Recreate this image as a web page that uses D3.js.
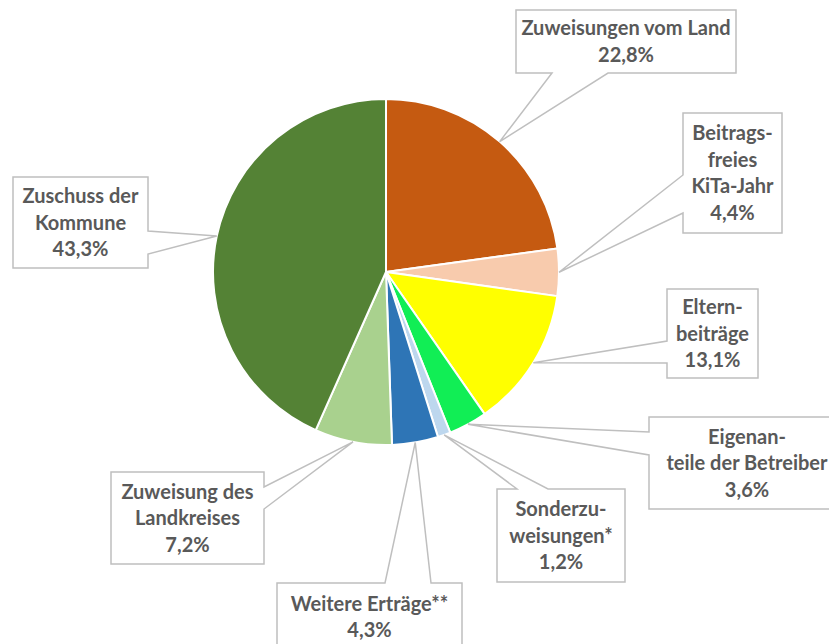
<!DOCTYPE html>
<html>
<head>
<meta charset="utf-8">
<script src="https://cdn.jsdelivr.net/npm/d3@7"></script>
<style>
  html, body { margin: 0; padding: 0; background: #fff; overflow: hidden; }
  svg { display: block; }
  .label { font-family: Lato, "Open Sans", sans-serif; font-weight: 700; font-size: 20px; fill: #595959; }
</style>
</head>
<body>
<svg id="chart"></svg>
<script>
// data, clockwise from 12 o'clock
const categories = ["Zuweisungen vom Land", "Beitragsfreies KiTa-Jahr", "Elternbeiträge",
  "Eigenanteile der Betreiber", "Sonderzuweisungen*", "Weitere Erträge**",
  "Zuweisung des Landkreises", "Zuschuss der Kommune"];
const shares = [22.8, 4.4, 13.1, 3.6, 1.2, 4.3, 7.2, 43.3];
const labelLines = [
  ["Zuweisungen vom Land"],
  ["Beitrags-", "freies", "KiTa-Jahr"],
  ["Eltern-", "beiträge"],
  ["Eigenan-", "teile der Betreiber"],
  ["Sonderzu-", "weisungen*"],
  ["Weitere Erträge**"],
  ["Zuweisung des", "Landkreises"],
  ["Zuschuss der", "Kommune"]
];

const colors = ["#C55A11", "#F8CBAD", "#FFFF00", "#11EE55", "#BDD7EE", "#2E75B6", "#A9D18E", "#548235"];

// callout boxes: x, y, w, h, side of the tail, tail base from a to b
const boxes = [
  {x: 516, y: 10,  w: 220, h: 63,  side: "bottom", a: 552, b: 608},
  {x: 683, y: 113, w: 99,  h: 120, side: "left",   a: 175, b: 213},
  {x: 667, y: 289, w: 91,  h: 89,  side: "left",   a: 341, b: 363},
  {x: 649, y: 417, w: 196, h: 92,  side: "left",   a: 432, b: 455},
  {x: 497, y: 489, w: 128, h: 93,  side: "top",    a: 517, b: 548},
  {x: 277, y: 583, w: 185, h: 68,  side: "top",    a: 385, b: 431},
  {x: 111, y: 472, w: 153, h: 92,  side: "right",  a: 487, b: 509},
  {x: 13,  y: 177, w: 135, h: 91,  side: "right",  a: 231, b: 254}
];

const width = 829;
const height = 644;
const cx = 386, cy = 272;
const radius = 173;
const lineH = 26.5;

const de = d3.formatLocale({decimal: ",", thousands: ".", grouping: [3], currency: ["", " €"]});
const pct = de.format(".1f");

const svg = d3.select("#chart")
    .attr("width", width)
    .attr("height", height);

const g = svg.append("g")
    .attr("transform", `translate(${cx},${cy})`);

const pie = d3.pie()
    .sort(null)
    .value(d => d);

const arc = d3.arc()
    .innerRadius(0)
    .outerRadius(radius);

const edgeArc = d3.arc()
    .innerRadius(radius)
    .outerRadius(radius);

const arcs = pie(shares);

g.selectAll("path.slice")
    .data(arcs)
  .enter().append("path")
    .attr("class", "slice")
    .attr("d", arc)
    .attr("fill", (d, i) => colors[i])
    .attr("stroke", "#fff")
    .attr("stroke-width", 2)
    .attr("stroke-linejoin", "round");

function callout(b, tip) {
  const x0 = b.x, y0 = b.y, x1 = b.x + b.w, y1 = b.y + b.h;
  const t = `${tip[0]},${tip[1]}`;
  let p = `M${x0},${y0}`;
  if (b.side === "top") p += ` L${b.a},${y0} L${t} L${b.b},${y0}`;
  p += ` L${x1},${y0}`;
  if (b.side === "right") p += ` L${x1},${b.a} L${t} L${x1},${b.b}`;
  p += ` L${x1},${y1}`;
  if (b.side === "bottom") p += ` L${b.b},${y1} L${t} L${b.a},${y1}`;
  p += ` L${x0},${y1}`;
  if (b.side === "left") p += ` L${x0},${b.b} L${t} L${x0},${b.a}`;
  return p + " Z";
}

const labels = svg.selectAll("g.callout")
    .data(arcs)
  .enter().append("g")
    .attr("class", "callout");

labels.append("path")
    .attr("d", (d, i) => {
      const c = edgeArc.centroid(d);
      return callout(boxes[i], [cx + c[0], cy + c[1]]);
    })
    .attr("fill", "#fff")
    .attr("stroke", "#BFBFBF")
    .attr("stroke-width", 1.5);

labels.each(function(d, i) {
  const b = boxes[i];
  const lines = labelLines[i].concat([pct(shares[i]) + "%"]);
  const top = b.y + b.h / 2 - (lines.length - 1) * lineH / 2;
  const text = d3.select(this).append("text")
      .attr("class", "label")
      .attr("text-anchor", "middle");
  lines.forEach((l, k) => {
    text.append("tspan")
        .attr("x", b.x + b.w / 2)
        .attr("y", top + k * lineH)
        .attr("dy", "0.35em")
        .text(l);
  });
});
</script>
</body>
</html>
